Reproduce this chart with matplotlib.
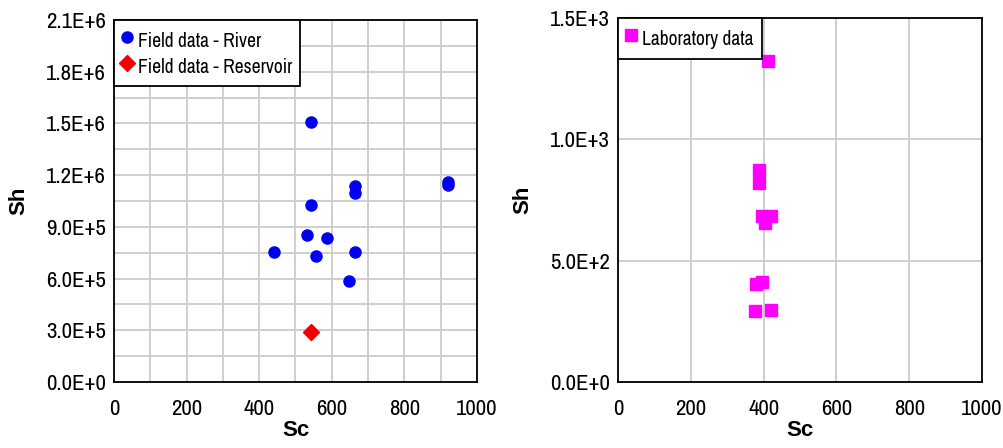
import matplotlib
matplotlib.use('Agg')
import matplotlib.pyplot as plt
from matplotlib.ticker import MultipleLocator, FuncFormatter
from matplotlib import font_manager

# field data (left panel)
river_sc = [544, 665, 665, 920, 920, 544, 531, 586, 440, 557, 665, 647]
river_sh = [1.510e6, 1.137e6, 1.098e6, 1.162e6, 1.143e6, 1.025e6,
            0.855e6, 0.835e6, 0.756e6, 0.733e6, 0.752e6, 0.588e6]
reservoir_sc = [544]
reservoir_sh = [0.290e6]

# laboratory data (right panel)
lab_sc = [412, 386, 386, 396, 421, 403, 378, 396, 377, 421]
lab_sh = [1321, 875, 821, 683, 683, 655, 402, 411, 291, 295]

names = {f.name for f in font_manager.fontManager.ttflist}
narrow = 'Archivo Narrow' if 'Archivo Narrow' in names else 'Liberation Sans'
label_font = 'Liberation Sans'


def sci(v, pos):
    if v == 0:
        return '0.0E+0'
    s = '%.1E' % v
    m, e = s.split('E')
    return '%sE+%d' % (m, int(e))


def style_axes(ax):
    ax.set_axisbelow(True)
    ax.grid(True, which='both', color='#cccccc', linewidth=1.3)
    ax.tick_params(which='both', length=0)
    ax.tick_params(axis='x', pad=12)
    ax.tick_params(axis='y', pad=6)
    for lab in ax.get_xticklabels() + ax.get_yticklabels():
        lab.set_fontfamily(narrow)
        lab.set_fontsize(16.5)
    for sp in ax.spines.values():
        sp.set_linewidth(1.3)
    ax.set_xlabel('Sc', fontfamily=label_font, fontweight='bold', fontsize=16, labelpad=1)
    ax.set_ylabel('Sh', fontfamily=label_font, fontweight='bold', fontsize=16)
    ax.yaxis.set_label_coords(-0.232, 0.5)


def add_legend(ax):
    leg = ax.legend(loc='upper left', borderaxespad=0, fancybox=False, framealpha=1,
                    edgecolor='black', handletextpad=0.3, handlelength=0.55,
                    handleheight=1.6, borderpad=0.4, labelspacing=0.05,
                    prop={'family': narrow, 'size': 14})
    leg.get_frame().set_linewidth(1.3)


fig = plt.figure(figsize=(10.04, 4.48), dpi=100)
ax1 = fig.add_axes([114/1004, 66/448, 363/1004, 362/448])
ax2 = fig.add_axes([618/1004, 66/448, 364/1004, 364/448])

ax1.plot(river_sc, river_sh, 'o', color='#0000f0', markersize=8, label='Field data - River')
ax1.plot(reservoir_sc, reservoir_sh, 'D', color='#f00000', markersize=8.5, label='Field data - Reservoir')
ax1.set_xlim(0, 1000)
ax1.set_ylim(0, 2.1e6)
ax1.xaxis.set_major_locator(MultipleLocator(200))
ax1.xaxis.set_minor_locator(MultipleLocator(100))
ax1.yaxis.set_major_locator(MultipleLocator(3e5))
ax1.yaxis.set_minor_locator(MultipleLocator(1.5e5))
ax1.yaxis.set_major_formatter(FuncFormatter(sci))
style_axes(ax1)
add_legend(ax1)

ax2.plot(lab_sc, lab_sh, 's', color='#ff00ff', markersize=8, label='Laboratory data')
ax2.set_xlim(0, 1000)
ax2.set_ylim(0, 1500)
ax2.xaxis.set_major_locator(MultipleLocator(200))
ax2.yaxis.set_major_locator(MultipleLocator(500))
ax2.yaxis.set_major_formatter(FuncFormatter(sci))
style_axes(ax2)
add_legend(ax2)

fig.savefig('out.png', dpi=100)
